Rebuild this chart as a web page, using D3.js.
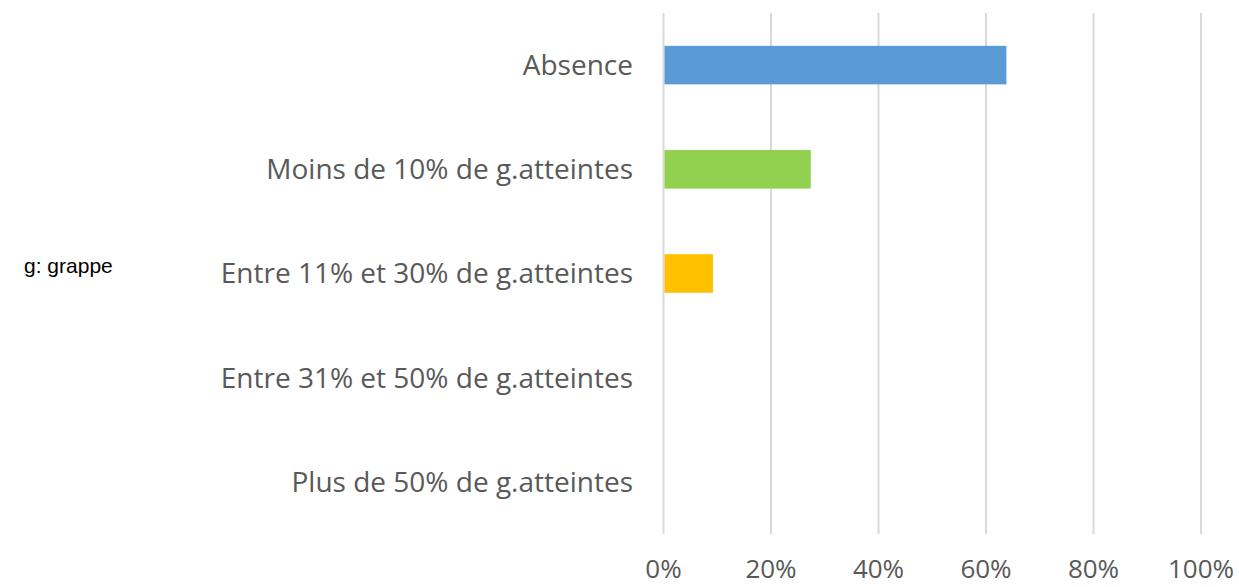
<!DOCTYPE html>
<html>
<head>
<meta charset="utf-8">
<script src="https://cdn.jsdelivr.net/npm/d3@7"></script>
<style>
  body { margin: 0; background: #fff; }
  svg text { font-family: "Open Sans", sans-serif; }
</style>
</head>
<body>
<div id="chart"></div>
<script>
'use strict';

// categories top to bottom
var categories = [
  "Absence",
  "Moins de 10% de g.atteintes",
  "Entre 11% et 30% de g.atteintes",
  "Entre 31% et 50% de g.atteintes",
  "Plus de 50% de g.atteintes"
];
var values = [0.638, 0.274, 0.092, 0, 0];
var colors = ["#5b9bd5", "#92d050", "#ffc000", "#5b9bd5", "#5b9bd5"];
var ticks = [0, 0.2, 0.4, 0.6, 0.8, 1.0];
var note = "g: grappe";

var width = 1239, height = 587;
var svg = d3.select("#chart").append("svg")
  .attr("width", width).attr("height", height);

var x = d3.scaleLinear().domain([0, 1]).range([663.5, 1201]);
var y = d3.scaleBand().domain(categories).range([13, 534])
  .paddingInner(0.63).paddingOuter(0.315);

// gridlines
svg.append("g").selectAll("line").data(ticks).join("line")
  .attr("x1", d => x(d)).attr("x2", d => x(d))
  .attr("y1", 13).attr("y2", 534)
  .attr("stroke", "#d9d9d9").attr("stroke-width", 2);

// bars
svg.append("g").selectAll("rect").data(values).join("rect")
  .attr("x", x(0) + 1)
  .attr("y", (d, i) => y(categories[i]))
  .attr("width", d => Math.max(0, x(d) - x(0) - 1))
  .attr("height", y.bandwidth())
  .attr("fill", (d, i) => colors[i]);

// category labels
svg.append("g").selectAll("text").data(categories).join("text")
  .attr("x", 633)
  .attr("y", d => y(d) + y.bandwidth() / 2)
  .attr("dy", "0.35em")
  .attr("text-anchor", "end")
  .attr("font-size", 28)
  .attr("fill", "#595959")
  .text(d => d);

// x tick labels
var fmt = d3.format(".0%");
svg.append("g").selectAll("text").data(ticks).join("text")
  .attr("x", d => x(d))
  .attr("y", 578)
  .attr("text-anchor", "middle")
  .attr("font-size", 26)
  .attr("fill", "#595959")
  .text(d => fmt(d));

svg.append("text")
  .attr("x", 24).attr("y", 273)
  .style("font-family", "Liberation Sans, Arial, sans-serif")
  .attr("font-size", 21)
  .attr("fill", "#000")
  .text(note);
</script>
</body>
</html>
